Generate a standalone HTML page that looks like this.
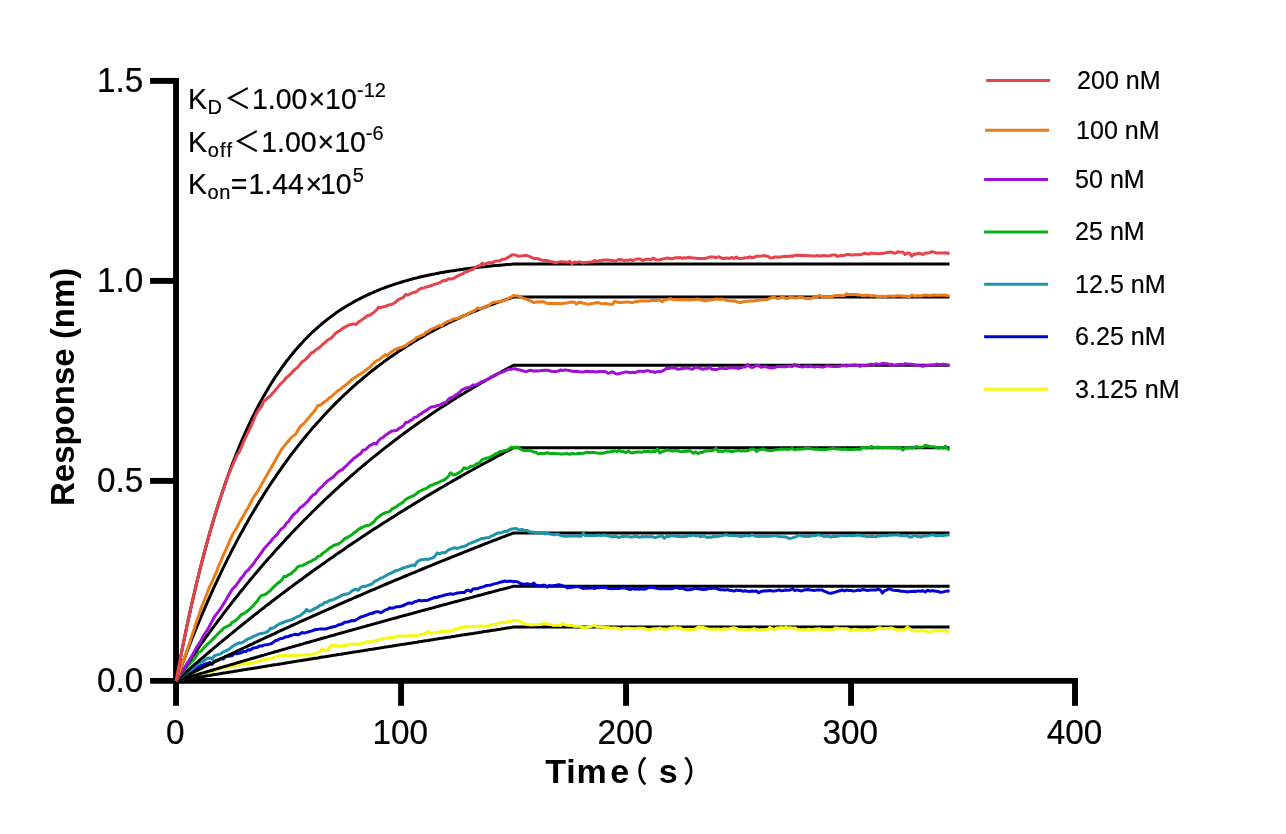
<!DOCTYPE html>
<html lang="en"><head><meta charset="utf-8"><title>Binding kinetics sensorgram</title>
<style>html,body{margin:0;padding:0;background:#fff}svg{display:block}text{font-family:"Liberation Sans","Noto Sans CJK SC",sans-serif;fill:#000;stroke:#000;stroke-width:0.2px}.tick{font-size:33.3px}.leg{font-size:25.1px}.ann{font-size:28.5px}.ss{font-size:20px}.lt{font-size:26.8px}.ttl{font-size:34px;font-weight:bold;stroke:none}.par{font-size:29.5px;font-family:"Noto Sans CJK SC",sans-serif;font-weight:500;stroke:none}.fit{fill:none;stroke:#000;stroke-width:3;stroke-linejoin:round;stroke-linecap:butt}.dat{fill:none;stroke-width:3;stroke-linejoin:round;stroke-linecap:butt}.ax{stroke:#000;stroke-width:5.9;fill:none;stroke-linecap:butt}</style></head><body>
<svg width="1286" height="834" viewBox="0 0 1286 834">
<rect width="1286" height="834" fill="#fff"/>
<g id="axes">
<path class="ax" d="M176.05 77.95 V705.8"/>
<path class="ax" d="M150.1 680.9 H1077.95"/>
<path class="ax" d="M150.1 480.90 H176.05"/>
<path class="ax" d="M150.1 280.90 H176.05"/>
<path class="ax" d="M150.1 80.90 H176.05"/>
<path class="ax" d="M401.05 680.9 V705.8"/>
<path class="ax" d="M626.05 680.9 V705.8"/>
<path class="ax" d="M851.05 680.9 V705.8"/>
<path class="ax" d="M1075.0 680.9 V705.8"/>
</g>
<g id="series">
<path class="fit" d="M176.1 680.9 L178.3 680.5 L180.6 680.2 L182.8 679.8 L185.1 679.4 L187.3 679.0 L189.6 678.7 L191.8 678.3 L194.1 677.9 L196.3 677.6 L198.6 677.2 L200.8 676.8 L203.1 676.5 L205.3 676.1 L207.6 675.7 L209.8 675.4 L212.1 675.0 L214.3 674.6 L216.6 674.3 L218.8 673.9 L221.1 673.5 L223.3 673.1 L225.6 672.8 L227.8 672.4 L230.1 672.0 L232.3 671.7 L234.6 671.3 L236.8 670.9 L239.1 670.6 L241.3 670.2 L243.6 669.8 L245.8 669.5 L248.1 669.1 L250.3 668.8 L252.6 668.4 L254.8 668.0 L257.1 667.7 L259.3 667.3 L261.6 666.9 L263.8 666.6 L266.1 666.2 L268.3 665.8 L270.6 665.5 L272.8 665.1 L275.1 664.7 L277.3 664.4 L279.6 664.0 L281.8 663.7 L284.1 663.3 L286.3 662.9 L288.6 662.6 L290.8 662.2 L293.1 661.8 L295.3 661.5 L297.6 661.1 L299.8 660.8 L302.1 660.4 L304.3 660.0 L306.6 659.7 L308.8 659.3 L311.1 658.9 L313.3 658.6 L315.6 658.2 L317.8 657.9 L320.1 657.5 L322.3 657.1 L324.6 656.8 L326.8 656.4 L329.1 656.1 L331.3 655.7 L333.6 655.3 L335.8 655.0 L338.1 654.6 L340.3 654.3 L342.6 653.9 L344.8 653.5 L347.1 653.2 L349.3 652.8 L351.6 652.5 L353.8 652.1 L356.1 651.8 L358.3 651.4 L360.6 651.0 L362.8 650.7 L365.1 650.3 L367.3 650.0 L369.6 649.6 L371.8 649.3 L374.1 648.9 L376.3 648.5 L378.6 648.2 L380.8 647.8 L383.1 647.5 L385.3 647.1 L387.6 646.8 L389.8 646.4 L392.1 646.1 L394.3 645.7 L396.6 645.3 L398.8 645.0 L401.1 644.6 L403.3 644.3 L405.6 643.9 L407.8 643.6 L410.1 643.2 L412.3 642.9 L414.6 642.5 L416.8 642.2 L419.1 641.8 L421.3 641.4 L423.6 641.1 L425.8 640.7 L428.1 640.4 L430.3 640.0 L432.6 639.7 L434.8 639.3 L437.1 639.0 L439.3 638.6 L441.6 638.3 L443.8 637.9 L446.1 637.6 L448.3 637.2 L450.6 636.9 L452.8 636.5 L455.1 636.2 L457.3 635.8 L459.6 635.5 L461.8 635.1 L464.1 634.8 L466.3 634.4 L468.6 634.1 L470.8 633.7 L473.1 633.4 L475.3 633.0 L477.6 632.7 L479.8 632.3 L482.1 632.0 L484.3 631.6 L486.6 631.3 L488.8 630.9 L491.1 630.6 L493.3 630.2 L495.6 629.9 L497.8 629.5 L500.1 629.2 L502.3 628.8 L504.6 628.5 L506.8 628.1 L509.1 627.8 L511.3 627.4 L513.5 627.1 L949.5 627.1"/>
<path class="dat" stroke="#f8f816" d="M176.1 680.9 L178.3 680.3 L180.6 679.4 L182.8 678.7 L185.1 678.0 L187.3 676.9 L189.6 676.6 L191.8 676.3 L194.1 675.3 L196.3 673.9 L198.6 673.7 L200.8 672.9 L203.1 672.8 L205.3 672.8 L207.6 672.2 L209.8 672.0 L212.1 671.5 L214.3 670.8 L216.6 670.2 L218.8 668.9 L221.1 668.1 L223.3 667.5 L225.6 667.1 L227.8 667.1 L230.1 666.8 L232.3 666.3 L234.6 665.9 L236.8 665.7 L239.1 664.8 L241.3 663.6 L243.6 664.1 L245.8 663.4 L248.1 663.5 L250.3 663.4 L252.6 663.1 L254.8 662.3 L257.1 661.6 L259.3 660.8 L261.6 660.5 L263.8 659.7 L266.1 659.1 L268.3 659.2 L270.6 658.6 L272.8 658.0 L275.1 657.1 L277.3 656.3 L279.6 655.5 L281.8 656.0 L284.1 655.3 L286.3 655.5 L288.6 656.0 L290.8 655.5 L293.1 655.4 L295.3 655.4 L297.6 655.5 L299.8 655.0 L302.1 655.0 L304.3 655.3 L306.6 654.7 L308.8 654.2 L311.1 655.6 L313.3 653.9 L315.6 653.4 L317.8 652.8 L320.1 651.6 L322.3 648.5 L324.6 650.6 L326.8 650.6 L329.1 648.3 L331.3 645.5 L333.6 645.2 L335.8 645.8 L338.1 645.6 L340.3 646.5 L342.6 645.8 L344.8 645.3 L347.1 645.4 L349.3 644.1 L351.6 644.2 L353.8 644.2 L356.1 644.0 L358.3 644.2 L360.6 643.4 L362.8 643.3 L365.1 642.4 L367.3 641.7 L369.6 641.9 L371.8 641.2 L374.1 641.0 L376.3 640.5 L378.6 640.0 L380.8 639.4 L383.1 638.4 L385.3 638.3 L387.6 638.1 L389.8 637.5 L392.1 637.4 L394.3 637.2 L396.6 636.5 L398.8 635.6 L401.1 636.5 L403.3 636.3 L405.6 635.7 L407.8 635.9 L410.1 635.5 L412.3 636.1 L414.6 635.3 L416.8 635.5 L419.1 634.9 L421.3 634.6 L423.6 633.9 L425.8 632.9 L428.1 631.3 L430.3 633.4 L432.6 633.1 L434.8 632.6 L437.1 632.4 L439.3 631.7 L441.6 631.6 L443.8 631.6 L446.1 631.1 L448.3 631.3 L450.6 631.3 L452.8 630.1 L455.1 629.2 L457.3 629.2 L459.6 627.8 L461.8 627.3 L464.1 627.6 L466.3 626.3 L468.6 627.0 L470.8 626.8 L473.1 626.5 L475.3 626.6 L477.6 626.1 L479.8 626.2 L482.1 625.7 L484.3 626.8 L486.6 626.0 L488.8 625.9 L491.1 624.8 L493.3 624.6 L495.6 624.5 L497.8 623.6 L500.1 622.7 L502.3 622.3 L504.6 622.8 L506.8 622.1 L509.1 621.2 L511.3 621.4 L513.5 620.4 L515.8 620.6 L518.0 620.7 L520.3 621.4 L522.5 623.0 L524.8 623.9 L527.0 624.3 L529.3 624.7 L531.5 625.0 L533.8 624.7 L536.0 624.7 L538.3 624.5 L540.5 624.5 L542.8 623.6 L545.0 623.3 L547.3 624.0 L549.5 624.4 L551.8 624.9 L554.0 625.6 L556.3 625.0 L558.5 625.2 L560.8 625.6 L563.0 623.1 L565.3 625.1 L567.5 625.2 L569.8 625.4 L572.0 625.5 L574.3 626.2 L576.5 626.2 L578.8 625.9 L581.0 627.0 L583.3 627.8 L585.5 627.7 L587.8 627.0 L590.0 626.8 L592.3 625.9 L594.5 625.3 L596.8 626.8 L599.0 626.9 L601.3 626.9 L603.5 627.0 L605.8 627.9 L608.0 627.5 L610.3 628.3 L612.5 628.0 L614.8 628.0 L617.0 628.2 L619.3 628.7 L621.5 629.2 L623.8 628.5 L626.0 628.3 L628.3 628.3 L630.5 628.4 L632.8 628.5 L635.0 628.8 L637.3 628.3 L639.5 628.2 L641.8 628.2 L644.0 628.3 L646.3 629.2 L648.5 629.7 L650.8 629.4 L653.0 628.7 L655.3 629.0 L657.5 628.6 L659.8 628.1 L662.0 629.0 L664.3 628.9 L666.5 629.2 L668.8 628.6 L671.0 627.9 L673.3 627.9 L675.5 627.5 L677.8 628.5 L680.0 627.8 L682.3 629.3 L684.5 629.8 L686.8 629.5 L689.0 629.3 L691.3 629.6 L693.5 629.6 L695.8 628.7 L698.0 627.3 L700.3 627.4 L702.5 627.3 L704.8 628.0 L707.0 628.6 L709.3 629.1 L711.5 629.3 L713.8 629.1 L716.0 629.3 L718.3 628.9 L720.5 629.6 L722.8 629.0 L725.0 628.8 L727.3 629.1 L729.5 628.6 L731.8 628.1 L734.0 627.8 L736.3 628.4 L738.5 629.7 L740.8 629.7 L743.0 629.5 L745.3 629.4 L747.5 630.1 L749.8 629.9 L752.0 629.2 L754.3 628.6 L756.5 629.6 L758.8 630.3 L761.0 630.1 L763.3 629.8 L765.5 629.7 L767.8 629.3 L770.0 627.4 L772.3 629.0 L774.5 629.4 L776.8 628.0 L779.0 627.9 L781.3 627.5 L783.5 628.1 L785.8 627.3 L788.0 627.9 L790.3 627.8 L792.5 628.3 L794.8 627.9 L797.0 629.1 L799.3 629.9 L801.5 630.1 L803.8 629.8 L806.0 630.3 L808.3 629.2 L810.5 629.7 L812.8 629.7 L815.0 629.1 L817.3 628.9 L819.5 628.7 L821.8 629.7 L824.0 629.6 L826.3 629.7 L828.5 630.1 L830.8 629.7 L833.0 629.5 L835.3 628.1 L837.5 628.2 L839.8 628.9 L842.0 628.6 L844.3 628.8 L846.5 628.6 L848.8 629.3 L851.0 630.7 L853.3 629.5 L855.5 629.2 L857.8 629.9 L860.0 630.1 L862.3 630.4 L864.5 629.7 L866.8 630.2 L869.0 630.3 L871.3 629.4 L873.5 629.6 L875.8 629.3 L878.0 628.2 L880.3 627.8 L882.5 628.8 L884.8 628.6 L887.0 628.4 L889.3 628.2 L891.5 627.9 L893.8 628.9 L896.0 629.5 L898.3 630.1 L900.5 630.0 L902.8 630.0 L905.0 629.4 L907.3 626.9 L909.5 628.8 L911.8 630.3 L914.0 630.4 L916.3 631.3 L918.5 631.0 L920.8 630.7 L923.0 630.6 L925.3 631.1 L927.5 631.7 L929.8 632.4 L932.0 631.1 L934.3 630.6 L936.5 631.0 L938.8 630.3 L941.0 631.3 L943.3 630.6 L945.5 630.8 L947.8 631.3 L949.5 631.0"/>
<path class="fit" d="M176.1 680.9 L178.3 680.2 L180.6 679.6 L182.8 678.9 L185.1 678.2 L187.3 677.5 L189.6 676.9 L191.8 676.2 L194.1 675.5 L196.3 674.9 L198.6 674.2 L200.8 673.5 L203.1 672.9 L205.3 672.2 L207.6 671.5 L209.8 670.9 L212.1 670.2 L214.3 669.5 L216.6 668.9 L218.8 668.2 L221.1 667.5 L223.3 666.9 L225.6 666.2 L227.8 665.6 L230.1 664.9 L232.3 664.2 L234.6 663.6 L236.8 662.9 L239.1 662.3 L241.3 661.6 L243.6 660.9 L245.8 660.3 L248.1 659.6 L250.3 659.0 L252.6 658.3 L254.8 657.7 L257.1 657.0 L259.3 656.4 L261.6 655.7 L263.8 655.1 L266.1 654.4 L268.3 653.8 L270.6 653.1 L272.8 652.5 L275.1 651.8 L277.3 651.2 L279.6 650.5 L281.8 649.9 L284.1 649.2 L286.3 648.6 L288.6 647.9 L290.8 647.3 L293.1 646.6 L295.3 646.0 L297.6 645.4 L299.8 644.7 L302.1 644.1 L304.3 643.4 L306.6 642.8 L308.8 642.2 L311.1 641.5 L313.3 640.9 L315.6 640.2 L317.8 639.6 L320.1 639.0 L322.3 638.3 L324.6 637.7 L326.8 637.1 L329.1 636.4 L331.3 635.8 L333.6 635.2 L335.8 634.5 L338.1 633.9 L340.3 633.3 L342.6 632.6 L344.8 632.0 L347.1 631.4 L349.3 630.7 L351.6 630.1 L353.8 629.5 L356.1 628.9 L358.3 628.2 L360.6 627.6 L362.8 627.0 L365.1 626.4 L367.3 625.7 L369.6 625.1 L371.8 624.5 L374.1 623.9 L376.3 623.2 L378.6 622.6 L380.8 622.0 L383.1 621.4 L385.3 620.8 L387.6 620.1 L389.8 619.5 L392.1 618.9 L394.3 618.3 L396.6 617.7 L398.8 617.0 L401.1 616.4 L403.3 615.8 L405.6 615.2 L407.8 614.6 L410.1 614.0 L412.3 613.4 L414.6 612.7 L416.8 612.1 L419.1 611.5 L421.3 610.9 L423.6 610.3 L425.8 609.7 L428.1 609.1 L430.3 608.5 L432.6 607.9 L434.8 607.2 L437.1 606.6 L439.3 606.0 L441.6 605.4 L443.8 604.8 L446.1 604.2 L448.3 603.6 L450.6 603.0 L452.8 602.4 L455.1 601.8 L457.3 601.2 L459.6 600.6 L461.8 600.0 L464.1 599.4 L466.3 598.8 L468.6 598.2 L470.8 597.6 L473.1 597.0 L475.3 596.4 L477.6 595.8 L479.8 595.2 L482.1 594.6 L484.3 594.0 L486.6 593.4 L488.8 592.8 L491.1 592.2 L493.3 591.6 L495.6 591.0 L497.8 590.4 L500.1 589.8 L502.3 589.3 L504.6 588.7 L506.8 588.1 L509.1 587.5 L511.3 586.9 L513.5 586.3 L949.5 586.3"/>
<path class="dat" stroke="#0404d7" d="M176.1 680.9 L178.3 679.4 L180.6 677.9 L182.8 676.7 L185.1 675.4 L187.3 673.7 L189.6 672.5 L191.8 671.1 L194.1 670.2 L196.3 668.5 L198.6 667.1 L200.8 665.6 L203.1 664.9 L205.3 663.8 L207.6 663.5 L209.8 662.4 L212.1 664.4 L214.3 661.4 L216.6 660.2 L218.8 659.7 L221.1 658.3 L223.3 659.1 L225.6 656.3 L227.8 656.2 L230.1 656.1 L232.3 655.5 L234.6 653.1 L236.8 653.7 L239.1 653.3 L241.3 652.7 L243.6 651.6 L245.8 651.6 L248.1 649.7 L250.3 650.0 L252.6 648.2 L254.8 647.7 L257.1 647.4 L259.3 646.1 L261.6 646.1 L263.8 645.1 L266.1 644.8 L268.3 644.4 L270.6 643.9 L272.8 642.7 L275.1 640.8 L277.3 640.3 L279.6 638.8 L281.8 638.6 L284.1 637.6 L286.3 636.7 L288.6 636.4 L290.8 635.5 L293.1 634.9 L295.3 634.3 L297.6 634.8 L299.8 634.0 L302.1 632.4 L304.3 633.1 L306.6 632.4 L308.8 631.8 L311.1 631.1 L313.3 630.3 L315.6 629.5 L317.8 629.4 L320.1 628.9 L322.3 628.9 L324.6 629.1 L326.8 628.7 L329.1 627.9 L331.3 627.2 L333.6 626.7 L335.8 626.3 L338.1 625.0 L340.3 624.5 L342.6 623.8 L344.8 622.2 L347.1 622.1 L349.3 621.5 L351.6 620.6 L353.8 620.8 L356.1 619.8 L358.3 618.4 L360.6 617.0 L362.8 616.5 L365.1 615.7 L367.3 614.8 L369.6 613.8 L371.8 613.5 L374.1 612.5 L376.3 611.7 L378.6 611.8 L380.8 612.7 L383.1 611.5 L385.3 609.9 L387.6 609.4 L389.8 607.8 L392.1 608.2 L394.3 607.6 L396.6 606.7 L398.8 606.7 L401.1 606.2 L403.3 605.5 L405.6 604.5 L407.8 603.3 L410.1 602.9 L412.3 603.2 L414.6 601.8 L416.8 601.2 L419.1 600.3 L421.3 600.9 L423.6 600.4 L425.8 600.6 L428.1 600.2 L430.3 599.2 L432.6 598.4 L434.8 597.3 L437.1 597.6 L439.3 596.4 L441.6 596.1 L443.8 595.3 L446.1 594.7 L448.3 594.2 L450.6 593.8 L452.8 594.4 L455.1 593.6 L457.3 593.0 L459.6 592.7 L461.8 592.6 L464.1 592.5 L466.3 590.6 L468.6 590.2 L470.8 591.6 L473.1 589.0 L475.3 588.8 L477.6 588.7 L479.8 587.7 L482.1 587.1 L484.3 586.4 L486.6 585.5 L488.8 585.3 L491.1 584.9 L493.3 584.1 L495.6 583.6 L497.8 583.1 L500.1 582.2 L502.3 581.8 L504.6 581.0 L506.8 581.4 L509.1 581.2 L511.3 581.2 L513.5 581.8 L515.8 581.4 L518.0 582.1 L520.3 583.6 L522.5 584.0 L524.8 584.5 L527.0 583.7 L529.3 584.3 L531.5 584.7 L533.8 583.0 L536.0 585.3 L538.3 585.4 L540.5 586.0 L542.8 585.3 L545.0 585.3 L547.3 587.2 L549.5 585.3 L551.8 586.1 L554.0 585.4 L556.3 585.2 L558.5 584.7 L560.8 585.3 L563.0 585.9 L565.3 586.7 L567.5 588.1 L569.8 587.2 L572.0 587.4 L574.3 586.9 L576.5 586.7 L578.8 586.8 L581.0 587.6 L583.3 588.5 L585.5 588.0 L587.8 588.2 L590.0 588.1 L592.3 587.7 L594.5 588.5 L596.8 587.6 L599.0 587.7 L601.3 587.4 L603.5 587.2 L605.8 587.6 L608.0 588.4 L610.3 588.4 L612.5 588.7 L614.8 588.3 L617.0 588.4 L619.3 588.6 L621.5 587.9 L623.8 587.8 L626.0 588.2 L628.3 589.0 L630.5 589.6 L632.8 588.2 L635.0 589.3 L637.3 588.8 L639.5 589.3 L641.8 588.8 L644.0 589.3 L646.3 588.7 L648.5 587.5 L650.8 587.6 L653.0 587.6 L655.3 588.0 L657.5 588.6 L659.8 588.7 L662.0 588.4 L664.3 588.8 L666.5 588.8 L668.8 588.6 L671.0 588.7 L673.3 588.4 L675.5 587.4 L677.8 588.1 L680.0 588.4 L682.3 588.0 L684.5 589.3 L686.8 589.8 L689.0 589.7 L691.3 589.6 L693.5 588.9 L695.8 588.4 L698.0 588.7 L700.3 589.0 L702.5 589.4 L704.8 589.5 L707.0 589.1 L709.3 588.2 L711.5 588.4 L713.8 588.1 L716.0 588.3 L718.3 589.2 L720.5 589.8 L722.8 589.8 L725.0 590.1 L727.3 589.6 L729.5 590.3 L731.8 590.5 L734.0 591.1 L736.3 590.1 L738.5 590.6 L740.8 590.3 L743.0 591.3 L745.3 590.8 L747.5 591.3 L749.8 591.5 L752.0 591.0 L754.3 591.2 L756.5 591.0 L758.8 592.8 L761.0 591.4 L763.3 591.0 L765.5 591.1 L767.8 590.7 L770.0 590.5 L772.3 590.9 L774.5 590.9 L776.8 590.6 L779.0 589.9 L781.3 590.8 L783.5 590.5 L785.8 590.0 L788.0 590.2 L790.3 590.0 L792.5 588.6 L794.8 590.6 L797.0 589.9 L799.3 590.5 L801.5 590.9 L803.8 590.1 L806.0 589.7 L808.3 589.5 L810.5 590.0 L812.8 590.2 L815.0 590.4 L817.3 589.9 L819.5 589.9 L821.8 589.9 L824.0 591.1 L826.3 591.9 L828.5 593.0 L830.8 593.2 L833.0 592.7 L835.3 592.1 L837.5 591.4 L839.8 590.7 L842.0 590.0 L844.3 590.9 L846.5 590.1 L848.8 590.4 L851.0 590.4 L853.3 591.1 L855.5 590.7 L857.8 590.1 L860.0 590.5 L862.3 589.6 L864.5 589.8 L866.8 590.4 L869.0 590.2 L871.3 590.0 L873.5 589.9 L875.8 590.1 L878.0 589.2 L880.3 589.9 L882.5 593.1 L884.8 590.6 L887.0 589.9 L889.3 588.4 L891.5 589.7 L893.8 590.3 L896.0 590.4 L898.3 590.5 L900.5 591.2 L902.8 591.3 L905.0 591.4 L907.3 592.0 L909.5 591.6 L911.8 591.4 L914.0 591.3 L916.3 591.4 L918.5 590.9 L920.8 591.3 L923.0 590.7 L925.3 592.0 L927.5 590.2 L929.8 591.2 L932.0 590.6 L934.3 590.9 L936.5 591.2 L938.8 591.8 L941.0 592.4 L943.3 591.9 L945.5 591.4 L947.8 590.9 L949.5 591.5"/>
<path class="fit" d="M176.1 680.9 L178.3 679.8 L180.6 678.7 L182.8 677.5 L185.1 676.4 L187.3 675.3 L189.6 674.2 L191.8 673.1 L194.1 672.0 L196.3 670.8 L198.6 669.7 L200.8 668.6 L203.1 667.5 L205.3 666.4 L207.6 665.3 L209.8 664.2 L212.1 663.1 L214.3 662.1 L216.6 661.0 L218.8 659.9 L221.1 658.8 L223.3 657.7 L225.6 656.6 L227.8 655.5 L230.1 654.5 L232.3 653.4 L234.6 652.3 L236.8 651.2 L239.1 650.2 L241.3 649.1 L243.6 648.0 L245.8 647.0 L248.1 645.9 L250.3 644.8 L252.6 643.8 L254.8 642.7 L257.1 641.7 L259.3 640.6 L261.6 639.5 L263.8 638.5 L266.1 637.4 L268.3 636.4 L270.6 635.4 L272.8 634.3 L275.1 633.3 L277.3 632.2 L279.6 631.2 L281.8 630.2 L284.1 629.1 L286.3 628.1 L288.6 627.1 L290.8 626.0 L293.1 625.0 L295.3 624.0 L297.6 623.0 L299.8 621.9 L302.1 620.9 L304.3 619.9 L306.6 618.9 L308.8 617.9 L311.1 616.9 L313.3 615.9 L315.6 614.9 L317.8 613.8 L320.1 612.8 L322.3 611.8 L324.6 610.8 L326.8 609.8 L329.1 608.8 L331.3 607.8 L333.6 606.9 L335.8 605.9 L338.1 604.9 L340.3 603.9 L342.6 602.9 L344.8 601.9 L347.1 600.9 L349.3 599.9 L351.6 599.0 L353.8 598.0 L356.1 597.0 L358.3 596.0 L360.6 595.1 L362.8 594.1 L365.1 593.1 L367.3 592.2 L369.6 591.2 L371.8 590.2 L374.1 589.3 L376.3 588.3 L378.6 587.4 L380.8 586.4 L383.1 585.4 L385.3 584.5 L387.6 583.5 L389.8 582.6 L392.1 581.6 L394.3 580.7 L396.6 579.7 L398.8 578.8 L401.1 577.9 L403.3 576.9 L405.6 576.0 L407.8 575.1 L410.1 574.1 L412.3 573.2 L414.6 572.3 L416.8 571.3 L419.1 570.4 L421.3 569.5 L423.6 568.5 L425.8 567.6 L428.1 566.7 L430.3 565.8 L432.6 564.9 L434.8 563.9 L437.1 563.0 L439.3 562.1 L441.6 561.2 L443.8 560.3 L446.1 559.4 L448.3 558.5 L450.6 557.6 L452.8 556.7 L455.1 555.8 L457.3 554.9 L459.6 554.0 L461.8 553.1 L464.1 552.2 L466.3 551.3 L468.6 550.4 L470.8 549.5 L473.1 548.6 L475.3 547.7 L477.6 546.9 L479.8 546.0 L482.1 545.1 L484.3 544.2 L486.6 543.3 L488.8 542.4 L491.1 541.6 L493.3 540.7 L495.6 539.8 L497.8 539.0 L500.1 538.1 L502.3 537.2 L504.6 536.4 L506.8 535.5 L509.1 534.6 L511.3 533.8 L513.5 532.9 L949.5 532.9"/>
<path class="dat" stroke="#1e94aa" d="M176.1 680.9 L178.3 679.0 L180.6 677.2 L182.8 675.5 L185.1 673.9 L187.3 672.0 L189.6 670.5 L191.8 669.0 L194.1 667.3 L196.3 665.3 L198.6 663.7 L200.8 662.2 L203.1 661.4 L205.3 659.7 L207.6 658.2 L209.8 657.9 L212.1 659.3 L214.3 655.7 L216.6 655.1 L218.8 654.4 L221.1 653.6 L223.3 651.9 L225.6 651.1 L227.8 649.9 L230.1 648.4 L232.3 646.6 L234.6 645.1 L236.8 643.9 L239.1 642.8 L241.3 643.0 L243.6 641.9 L245.8 640.2 L248.1 638.8 L250.3 638.1 L252.6 636.8 L254.8 635.8 L257.1 634.8 L259.3 633.9 L261.6 633.4 L263.8 633.1 L266.1 632.4 L268.3 631.1 L270.6 628.2 L272.8 628.2 L275.1 626.8 L277.3 625.2 L279.6 623.8 L281.8 623.0 L284.1 622.1 L286.3 621.2 L288.6 620.6 L290.8 620.0 L293.1 619.0 L295.3 617.8 L297.6 616.6 L299.8 615.8 L302.1 613.9 L304.3 612.5 L306.6 609.4 L308.8 611.3 L311.1 610.7 L313.3 609.4 L315.6 608.1 L317.8 607.1 L320.1 605.2 L322.3 604.7 L324.6 602.6 L326.8 602.3 L329.1 600.6 L331.3 600.1 L333.6 599.7 L335.8 598.4 L338.1 597.3 L340.3 596.2 L342.6 594.9 L344.8 594.3 L347.1 594.1 L349.3 593.1 L351.6 591.3 L353.8 589.8 L356.1 589.5 L358.3 590.2 L360.6 587.5 L362.8 586.5 L365.1 586.5 L367.3 585.6 L369.6 584.8 L371.8 584.1 L374.1 581.8 L376.3 580.6 L378.6 579.5 L380.8 578.1 L383.1 577.3 L385.3 576.0 L387.6 574.7 L389.8 573.6 L392.1 572.7 L394.3 571.4 L396.6 570.5 L398.8 569.9 L401.1 568.9 L403.3 567.8 L405.6 567.4 L407.8 566.5 L410.1 566.0 L412.3 565.0 L414.6 565.6 L416.8 562.3 L419.1 560.6 L421.3 559.6 L423.6 559.6 L425.8 559.1 L428.1 559.4 L430.3 558.6 L432.6 557.9 L434.8 556.5 L437.1 553.0 L439.3 553.7 L441.6 552.8 L443.8 552.8 L446.1 552.0 L448.3 550.0 L450.6 549.1 L452.8 548.3 L455.1 547.7 L457.3 548.4 L459.6 547.6 L461.8 546.7 L464.1 546.4 L466.3 545.6 L468.6 544.0 L470.8 543.0 L473.1 542.1 L475.3 541.3 L477.6 540.3 L479.8 539.3 L482.1 538.4 L484.3 538.3 L486.6 537.8 L488.8 537.8 L491.1 536.2 L493.3 535.4 L495.6 534.0 L497.8 532.9 L500.1 533.1 L502.3 532.4 L504.6 531.3 L506.8 531.4 L509.1 530.0 L511.3 529.1 L513.5 528.8 L515.8 528.4 L518.0 529.4 L520.3 529.7 L522.5 529.6 L524.8 530.6 L527.0 530.5 L529.3 531.5 L531.5 532.2 L533.8 532.2 L536.0 532.7 L538.3 532.9 L540.5 532.9 L542.8 532.7 L545.0 533.9 L547.3 533.3 L549.5 534.0 L551.8 534.2 L554.0 534.7 L556.3 534.1 L558.5 534.3 L560.8 535.6 L563.0 536.1 L565.3 536.3 L567.5 536.3 L569.8 536.1 L572.0 535.9 L574.3 536.1 L576.5 536.1 L578.8 536.2 L581.0 536.3 L583.3 533.4 L585.5 535.7 L587.8 535.6 L590.0 535.4 L592.3 535.9 L594.5 535.2 L596.8 535.4 L599.0 535.0 L601.3 535.4 L603.5 535.0 L605.8 535.2 L608.0 535.8 L610.3 536.2 L612.5 537.0 L614.8 536.3 L617.0 536.8 L619.3 537.5 L621.5 536.5 L623.8 536.6 L626.0 536.2 L628.3 536.3 L630.5 537.1 L632.8 536.9 L635.0 536.2 L637.3 536.4 L639.5 537.4 L641.8 536.6 L644.0 536.7 L646.3 536.5 L648.5 536.8 L650.8 536.5 L653.0 537.0 L655.3 537.6 L657.5 536.8 L659.8 536.5 L662.0 535.6 L664.3 538.4 L666.5 536.2 L668.8 536.7 L671.0 535.6 L673.3 536.0 L675.5 535.8 L677.8 536.5 L680.0 536.6 L682.3 536.7 L684.5 536.5 L686.8 536.4 L689.0 535.7 L691.3 535.6 L693.5 535.1 L695.8 535.7 L698.0 535.6 L700.3 536.7 L702.5 536.1 L704.8 536.3 L707.0 537.5 L709.3 537.1 L711.5 537.3 L713.8 536.2 L716.0 536.5 L718.3 536.2 L720.5 536.1 L722.8 535.6 L725.0 534.7 L727.3 534.9 L729.5 535.5 L731.8 535.4 L734.0 535.6 L736.3 535.8 L738.5 535.9 L740.8 536.6 L743.0 536.0 L745.3 535.8 L747.5 535.7 L749.8 535.9 L752.0 534.5 L754.3 535.8 L756.5 536.2 L758.8 536.4 L761.0 536.0 L763.3 536.5 L765.5 536.2 L767.8 536.3 L770.0 536.2 L772.3 536.1 L774.5 535.8 L776.8 535.8 L779.0 536.5 L781.3 536.8 L783.5 536.7 L785.8 536.9 L788.0 538.0 L790.3 538.4 L792.5 537.9 L794.8 537.1 L797.0 536.3 L799.3 535.0 L801.5 535.7 L803.8 536.3 L806.0 536.5 L808.3 536.4 L810.5 536.2 L812.8 535.3 L815.0 535.6 L817.3 535.1 L819.5 535.1 L821.8 535.5 L824.0 536.6 L826.3 536.3 L828.5 536.2 L830.8 537.2 L833.0 536.3 L835.3 536.6 L837.5 536.3 L839.8 535.6 L842.0 535.4 L844.3 535.7 L846.5 535.8 L848.8 535.5 L851.0 535.5 L853.3 535.7 L855.5 535.3 L857.8 534.9 L860.0 535.2 L862.3 536.0 L864.5 535.9 L866.8 536.7 L869.0 536.6 L871.3 536.3 L873.5 536.4 L875.8 536.9 L878.0 535.8 L880.3 536.0 L882.5 535.6 L884.8 535.4 L887.0 535.8 L889.3 534.9 L891.5 535.3 L893.8 535.0 L896.0 535.0 L898.3 534.7 L900.5 535.8 L902.8 535.7 L905.0 535.5 L907.3 535.7 L909.5 537.0 L911.8 537.0 L914.0 535.2 L916.3 536.2 L918.5 536.5 L920.8 537.0 L923.0 536.3 L925.3 535.9 L927.5 535.9 L929.8 535.2 L932.0 535.0 L934.3 534.9 L936.5 536.1 L938.8 535.2 L941.0 535.5 L943.3 535.6 L945.5 535.0 L947.8 535.1 L949.5 534.9"/>
<path class="fit" d="M176.1 680.9 L178.3 678.9 L180.6 676.9 L182.8 674.9 L185.1 672.9 L187.3 670.9 L189.6 669.0 L191.8 667.0 L194.1 665.0 L196.3 663.1 L198.6 661.1 L200.8 659.2 L203.1 657.3 L205.3 655.3 L207.6 653.4 L209.8 651.5 L212.1 649.6 L214.3 647.7 L216.6 645.8 L218.8 643.9 L221.1 642.1 L223.3 640.2 L225.6 638.3 L227.8 636.5 L230.1 634.6 L232.3 632.8 L234.6 631.0 L236.8 629.1 L239.1 627.3 L241.3 625.5 L243.6 623.7 L245.8 621.9 L248.1 620.1 L250.3 618.3 L252.6 616.5 L254.8 614.7 L257.1 613.0 L259.3 611.2 L261.6 609.4 L263.8 607.7 L266.1 605.9 L268.3 604.2 L270.6 602.5 L272.8 600.7 L275.1 599.0 L277.3 597.3 L279.6 595.6 L281.8 593.9 L284.1 592.2 L286.3 590.5 L288.6 588.8 L290.8 587.2 L293.1 585.5 L295.3 583.8 L297.6 582.2 L299.8 580.5 L302.1 578.9 L304.3 577.2 L306.6 575.6 L308.8 574.0 L311.1 572.3 L313.3 570.7 L315.6 569.1 L317.8 567.5 L320.1 565.9 L322.3 564.3 L324.6 562.7 L326.8 561.1 L329.1 559.5 L331.3 558.0 L333.6 556.4 L335.8 554.8 L338.1 553.3 L340.3 551.7 L342.6 550.2 L344.8 548.7 L347.1 547.1 L349.3 545.6 L351.6 544.1 L353.8 542.6 L356.1 541.0 L358.3 539.5 L360.6 538.0 L362.8 536.5 L365.1 535.1 L367.3 533.6 L369.6 532.1 L371.8 530.6 L374.1 529.1 L376.3 527.7 L378.6 526.2 L380.8 524.8 L383.1 523.3 L385.3 521.9 L387.6 520.4 L389.8 519.0 L392.1 517.6 L394.3 516.2 L396.6 514.8 L398.8 513.3 L401.1 511.9 L403.3 510.5 L405.6 509.1 L407.8 507.7 L410.1 506.4 L412.3 505.0 L414.6 503.6 L416.8 502.2 L419.1 500.9 L421.3 499.5 L423.6 498.1 L425.8 496.8 L428.1 495.4 L430.3 494.1 L432.6 492.8 L434.8 491.4 L437.1 490.1 L439.3 488.8 L441.6 487.5 L443.8 486.2 L446.1 484.8 L448.3 483.5 L450.6 482.2 L452.8 480.9 L455.1 479.7 L457.3 478.4 L459.6 477.1 L461.8 475.8 L464.1 474.5 L466.3 473.3 L468.6 472.0 L470.8 470.8 L473.1 469.5 L475.3 468.3 L477.6 467.0 L479.8 465.8 L482.1 464.5 L484.3 463.3 L486.6 462.1 L488.8 460.9 L491.1 459.6 L493.3 458.4 L495.6 457.2 L497.8 456.0 L500.1 454.8 L502.3 453.6 L504.6 452.4 L506.8 451.2 L509.1 450.1 L511.3 448.9 L513.5 447.7 L949.5 447.7"/>
<path class="dat" stroke="#08af14" d="M176.1 680.9 L178.3 677.9 L180.6 674.9 L182.8 672.2 L185.1 669.4 L187.3 666.6 L189.6 664.0 L191.8 661.4 L194.1 659.3 L196.3 656.2 L198.6 652.1 L200.8 651.4 L203.1 648.7 L205.3 646.3 L207.6 644.1 L209.8 642.1 L212.1 639.9 L214.3 637.6 L216.6 635.2 L218.8 632.8 L221.1 630.9 L223.3 628.6 L225.6 627.1 L227.8 626.2 L230.1 625.0 L232.3 622.3 L234.6 621.2 L236.8 619.5 L239.1 617.2 L241.3 614.5 L243.6 613.8 L245.8 612.3 L248.1 610.5 L250.3 608.6 L252.6 606.3 L254.8 603.7 L257.1 601.3 L259.3 597.8 L261.6 595.5 L263.8 594.9 L266.1 594.0 L268.3 592.2 L270.6 590.4 L272.8 587.8 L275.1 585.7 L277.3 583.5 L279.6 581.9 L281.8 580.0 L284.1 576.2 L286.3 576.7 L288.6 574.7 L290.8 573.9 L293.1 571.7 L295.3 569.8 L297.6 566.8 L299.8 565.9 L302.1 565.7 L304.3 564.7 L306.6 563.3 L308.8 562.2 L311.1 561.3 L313.3 559.8 L315.6 558.9 L317.8 556.5 L320.1 555.9 L322.3 553.9 L324.6 551.9 L326.8 550.4 L329.1 548.4 L331.3 547.1 L333.6 545.5 L335.8 544.8 L338.1 544.1 L340.3 542.7 L342.6 540.8 L344.8 538.5 L347.1 537.6 L349.3 536.3 L351.6 535.0 L353.8 532.8 L356.1 531.6 L358.3 529.4 L360.6 528.2 L362.8 527.2 L365.1 526.0 L367.3 525.4 L369.6 525.1 L371.8 523.3 L374.1 521.7 L376.3 518.6 L378.6 516.9 L380.8 515.1 L383.1 513.8 L385.3 512.7 L387.6 512.2 L389.8 511.4 L392.1 508.9 L394.3 507.8 L396.6 506.6 L398.8 504.7 L401.1 503.4 L403.3 502.1 L405.6 499.5 L407.8 498.2 L410.1 497.2 L412.3 496.2 L414.6 495.1 L416.8 493.3 L419.1 491.5 L421.3 490.5 L423.6 489.2 L425.8 488.6 L428.1 487.3 L430.3 485.5 L432.6 485.0 L434.8 483.8 L437.1 483.1 L439.3 482.2 L441.6 480.9 L443.8 480.3 L446.1 478.4 L448.3 476.6 L450.6 472.7 L452.8 474.7 L455.1 474.7 L457.3 473.6 L459.6 472.2 L461.8 470.9 L464.1 467.7 L466.3 468.7 L468.6 467.8 L470.8 466.3 L473.1 466.2 L475.3 464.8 L477.6 463.4 L479.8 462.7 L482.1 459.6 L484.3 458.8 L486.6 458.0 L488.8 457.9 L491.1 456.6 L493.3 455.4 L495.6 453.7 L497.8 453.1 L500.1 451.5 L502.3 451.5 L504.6 450.4 L506.8 450.2 L509.1 448.7 L511.3 447.2 L513.5 447.6 L515.8 447.1 L518.0 447.3 L520.3 449.0 L522.5 450.1 L524.8 450.7 L527.0 450.6 L529.3 450.2 L531.5 451.1 L533.8 452.0 L536.0 452.3 L538.3 453.9 L540.5 453.4 L542.8 453.4 L545.0 453.5 L547.3 452.8 L549.5 453.2 L551.8 453.7 L554.0 453.2 L556.3 453.7 L558.5 453.7 L560.8 454.0 L563.0 454.0 L565.3 453.8 L567.5 453.6 L569.8 454.3 L572.0 453.4 L574.3 453.7 L576.5 453.9 L578.8 453.3 L581.0 453.6 L583.3 453.2 L585.5 452.6 L587.8 452.2 L590.0 452.7 L592.3 452.2 L594.5 452.5 L596.8 453.0 L599.0 453.3 L601.3 452.9 L603.5 453.2 L605.8 452.3 L608.0 451.9 L610.3 451.7 L612.5 451.2 L614.8 450.9 L617.0 451.7 L619.3 450.4 L621.5 451.6 L623.8 451.6 L626.0 452.6 L628.3 450.9 L630.5 452.5 L632.8 453.0 L635.0 452.3 L637.3 452.0 L639.5 451.9 L641.8 452.4 L644.0 451.4 L646.3 451.6 L648.5 451.2 L650.8 452.1 L653.0 451.2 L655.3 451.5 L657.5 449.0 L659.8 452.9 L662.0 451.5 L664.3 451.2 L666.5 449.9 L668.8 450.3 L671.0 450.7 L673.3 451.1 L675.5 450.6 L677.8 450.8 L680.0 451.5 L682.3 451.7 L684.5 451.2 L686.8 451.3 L689.0 450.7 L691.3 451.6 L693.5 453.3 L695.8 451.9 L698.0 453.7 L700.3 452.2 L702.5 452.5 L704.8 450.9 L707.0 451.0 L709.3 450.7 L711.5 450.8 L713.8 449.9 L716.0 448.3 L718.3 451.6 L720.5 451.1 L722.8 451.6 L725.0 450.6 L727.3 451.1 L729.5 451.1 L731.8 451.8 L734.0 451.0 L736.3 450.9 L738.5 450.4 L740.8 451.0 L743.0 450.7 L745.3 451.1 L747.5 450.8 L749.8 449.6 L752.0 448.9 L754.3 449.2 L756.5 451.4 L758.8 449.9 L761.0 449.4 L763.3 449.0 L765.5 449.9 L767.8 450.3 L770.0 450.8 L772.3 450.4 L774.5 450.0 L776.8 449.8 L779.0 449.4 L781.3 449.1 L783.5 449.2 L785.8 449.0 L788.0 449.4 L790.3 449.0 L792.5 448.6 L794.8 450.0 L797.0 449.0 L799.3 449.2 L801.5 448.9 L803.8 449.0 L806.0 448.3 L808.3 448.6 L810.5 448.6 L812.8 449.1 L815.0 449.2 L817.3 449.0 L819.5 449.6 L821.8 449.6 L824.0 449.8 L826.3 449.6 L828.5 449.0 L830.8 448.9 L833.0 448.3 L835.3 448.8 L837.5 449.0 L839.8 449.1 L842.0 449.5 L844.3 449.1 L846.5 449.4 L848.8 449.6 L851.0 449.2 L853.3 449.4 L855.5 449.2 L857.8 449.0 L860.0 449.5 L862.3 447.5 L864.5 447.5 L866.8 448.1 L869.0 447.7 L871.3 446.5 L873.5 447.2 L875.8 447.6 L878.0 447.0 L880.3 447.4 L882.5 447.8 L884.8 447.2 L887.0 447.9 L889.3 447.4 L891.5 448.0 L893.8 447.7 L896.0 447.8 L898.3 448.3 L900.5 447.7 L902.8 450.0 L905.0 448.1 L907.3 448.1 L909.5 447.5 L911.8 448.2 L914.0 447.6 L916.3 446.5 L918.5 447.2 L920.8 447.3 L923.0 446.9 L925.3 445.2 L927.5 445.7 L929.8 446.6 L932.0 446.8 L934.3 447.1 L936.5 447.5 L938.8 448.3 L941.0 447.3 L943.3 448.2 L945.5 446.1 L947.8 449.1 L949.5 449.9"/>
<path class="fit" d="M176.1 680.9 L178.3 677.5 L180.6 674.1 L182.8 670.7 L185.1 667.3 L187.3 664.0 L189.6 660.7 L191.8 657.4 L194.1 654.2 L196.3 650.9 L198.6 647.7 L200.8 644.5 L203.1 641.3 L205.3 638.2 L207.6 635.1 L209.8 632.0 L212.1 628.9 L214.3 625.8 L216.6 622.8 L218.8 619.8 L221.1 616.8 L223.3 613.8 L225.6 610.9 L227.8 608.0 L230.1 605.1 L232.3 602.2 L234.6 599.3 L236.8 596.5 L239.1 593.6 L241.3 590.8 L243.6 588.1 L245.8 585.3 L248.1 582.6 L250.3 579.8 L252.6 577.1 L254.8 574.4 L257.1 571.8 L259.3 569.1 L261.6 566.5 L263.8 563.9 L266.1 561.3 L268.3 558.7 L270.6 556.2 L272.8 553.7 L275.1 551.1 L277.3 548.6 L279.6 546.2 L281.8 543.7 L284.1 541.3 L286.3 538.8 L288.6 536.4 L290.8 534.0 L293.1 531.7 L295.3 529.3 L297.6 527.0 L299.8 524.6 L302.1 522.3 L304.3 520.0 L306.6 517.8 L308.8 515.5 L311.1 513.3 L313.3 511.0 L315.6 508.8 L317.8 506.6 L320.1 504.5 L322.3 502.3 L324.6 500.1 L326.8 498.0 L329.1 495.9 L331.3 493.8 L333.6 491.7 L335.8 489.6 L338.1 487.6 L340.3 485.5 L342.6 483.5 L344.8 481.5 L347.1 479.5 L349.3 477.5 L351.6 475.5 L353.8 473.6 L356.1 471.7 L358.3 469.7 L360.6 467.8 L362.8 465.9 L365.1 464.0 L367.3 462.2 L369.6 460.3 L371.8 458.4 L374.1 456.6 L376.3 454.8 L378.6 453.0 L380.8 451.2 L383.1 449.4 L385.3 447.6 L387.6 445.9 L389.8 444.2 L392.1 442.4 L394.3 440.7 L396.6 439.0 L398.8 437.3 L401.1 435.6 L403.3 434.0 L405.6 432.3 L407.8 430.7 L410.1 429.0 L412.3 427.4 L414.6 425.8 L416.8 424.2 L419.1 422.6 L421.3 421.0 L423.6 419.5 L425.8 417.9 L428.1 416.4 L430.3 414.8 L432.6 413.3 L434.8 411.8 L437.1 410.3 L439.3 408.8 L441.6 407.3 L443.8 405.9 L446.1 404.4 L448.3 403.0 L450.6 401.5 L452.8 400.1 L455.1 398.7 L457.3 397.3 L459.6 395.9 L461.8 394.5 L464.1 393.2 L466.3 391.8 L468.6 390.4 L470.8 389.1 L473.1 387.8 L475.3 386.4 L477.6 385.1 L479.8 383.8 L482.1 382.5 L484.3 381.2 L486.6 379.9 L488.8 378.7 L491.1 377.4 L493.3 376.2 L495.6 374.9 L497.8 373.7 L500.1 372.5 L502.3 371.2 L504.6 370.0 L506.8 368.8 L509.1 367.7 L511.3 366.5 L513.5 365.3 L949.5 365.3"/>
<path class="dat" stroke="#a010d7" d="M176.1 680.9 L178.3 677.4 L180.6 673.8 L182.8 670.1 L185.1 666.6 L187.3 663.1 L189.6 659.6 L191.8 656.1 L194.1 651.9 L196.3 647.9 L198.6 644.4 L200.8 640.8 L203.1 636.4 L205.3 633.1 L207.6 629.6 L209.8 625.5 L212.1 621.2 L214.3 617.0 L216.6 613.9 L218.8 611.1 L221.1 608.0 L223.3 604.2 L225.6 600.6 L227.8 596.6 L230.1 592.9 L232.3 589.3 L234.6 586.9 L236.8 584.4 L239.1 581.2 L241.3 577.9 L243.6 575.4 L245.8 571.9 L248.1 570.2 L250.3 567.3 L252.6 564.9 L254.8 561.6 L257.1 558.4 L259.3 555.7 L261.6 552.5 L263.8 549.0 L266.1 546.5 L268.3 544.0 L270.6 541.5 L272.8 538.7 L275.1 536.3 L277.3 534.3 L279.6 530.8 L281.8 528.6 L284.1 526.9 L286.3 523.5 L288.6 521.3 L290.8 518.2 L293.1 515.0 L295.3 513.1 L297.6 511.2 L299.8 508.0 L302.1 506.5 L304.3 504.6 L306.6 502.4 L308.8 500.2 L311.1 497.0 L313.3 494.8 L315.6 493.6 L317.8 490.5 L320.1 488.2 L322.3 486.4 L324.6 483.6 L326.8 481.6 L329.1 479.7 L331.3 478.4 L333.6 476.7 L335.8 474.1 L338.1 472.1 L340.3 470.6 L342.6 469.4 L344.8 467.1 L347.1 465.1 L349.3 462.7 L351.6 460.6 L353.8 458.4 L356.1 456.8 L358.3 455.0 L360.6 453.6 L362.8 450.3 L365.1 449.8 L367.3 448.0 L369.6 445.5 L371.8 444.8 L374.1 443.3 L376.3 444.2 L378.6 440.5 L380.8 438.5 L383.1 437.4 L385.3 435.2 L387.6 433.9 L389.8 432.2 L392.1 430.9 L394.3 430.8 L396.6 430.4 L398.8 428.6 L401.1 427.3 L403.3 426.0 L405.6 422.6 L407.8 422.3 L410.1 420.7 L412.3 419.6 L414.6 417.3 L416.8 417.0 L419.1 414.8 L421.3 413.7 L423.6 411.9 L425.8 410.6 L428.1 409.2 L430.3 407.4 L432.6 406.7 L434.8 406.7 L437.1 405.6 L439.3 405.3 L441.6 404.0 L443.8 402.7 L446.1 402.4 L448.3 399.5 L450.6 397.8 L452.8 397.1 L455.1 395.4 L457.3 394.1 L459.6 392.3 L461.8 390.0 L464.1 388.9 L466.3 387.7 L468.6 387.5 L470.8 386.9 L473.1 385.0 L475.3 385.1 L477.6 384.2 L479.8 382.9 L482.1 381.5 L484.3 380.9 L486.6 379.8 L488.8 378.5 L491.1 376.9 L493.3 376.1 L495.6 375.3 L497.8 373.8 L500.1 372.5 L502.3 372.2 L504.6 371.1 L506.8 370.2 L509.1 369.2 L511.3 369.3 L513.5 368.7 L515.8 368.8 L518.0 369.8 L520.3 370.1 L522.5 370.8 L524.8 371.3 L527.0 371.4 L529.3 370.4 L531.5 370.3 L533.8 371.2 L536.0 370.7 L538.3 371.1 L540.5 370.6 L542.8 370.6 L545.0 370.2 L547.3 370.2 L549.5 370.8 L551.8 371.4 L554.0 371.4 L556.3 371.4 L558.5 371.0 L560.8 370.0 L563.0 370.4 L565.3 369.9 L567.5 370.2 L569.8 370.4 L572.0 371.3 L574.3 371.5 L576.5 371.3 L578.8 371.6 L581.0 372.1 L583.3 372.1 L585.5 371.5 L587.8 371.2 L590.0 371.8 L592.3 371.4 L594.5 371.7 L596.8 372.1 L599.0 371.4 L601.3 371.4 L603.5 371.5 L605.8 371.7 L608.0 373.4 L610.3 372.6 L612.5 371.7 L614.8 373.1 L617.0 374.1 L619.3 373.8 L621.5 372.8 L623.8 372.4 L626.0 371.9 L628.3 372.3 L630.5 372.7 L632.8 372.2 L635.0 372.7 L637.3 371.7 L639.5 371.3 L641.8 371.3 L644.0 371.7 L646.3 370.7 L648.5 370.8 L650.8 371.7 L653.0 371.8 L655.3 372.5 L657.5 371.5 L659.8 371.7 L662.0 371.2 L664.3 370.0 L666.5 368.3 L668.8 368.5 L671.0 367.9 L673.3 368.1 L675.5 368.1 L677.8 369.2 L680.0 368.9 L682.3 368.5 L684.5 368.3 L686.8 367.9 L689.0 368.4 L691.3 369.2 L693.5 368.7 L695.8 367.3 L698.0 367.8 L700.3 368.2 L702.5 369.3 L704.8 368.7 L707.0 368.8 L709.3 367.2 L711.5 369.2 L713.8 369.2 L716.0 369.8 L718.3 368.9 L720.5 368.2 L722.8 368.2 L725.0 368.7 L727.3 368.4 L729.5 367.8 L731.8 367.7 L734.0 368.0 L736.3 367.8 L738.5 368.5 L740.8 367.9 L743.0 367.1 L745.3 366.9 L747.5 364.5 L749.8 366.6 L752.0 367.5 L754.3 366.8 L756.5 365.0 L758.8 365.7 L761.0 367.3 L763.3 366.8 L765.5 366.6 L767.8 367.3 L770.0 367.7 L772.3 368.1 L774.5 367.6 L776.8 366.9 L779.0 366.4 L781.3 366.7 L783.5 366.5 L785.8 366.8 L788.0 366.2 L790.3 366.3 L792.5 366.5 L794.8 364.4 L797.0 366.1 L799.3 366.4 L801.5 366.9 L803.8 366.8 L806.0 366.0 L808.3 366.7 L810.5 366.0 L812.8 366.7 L815.0 367.1 L817.3 366.3 L819.5 366.8 L821.8 366.9 L824.0 366.9 L826.3 366.1 L828.5 365.9 L830.8 366.3 L833.0 366.5 L835.3 366.2 L837.5 366.6 L839.8 366.2 L842.0 365.6 L844.3 365.4 L846.5 366.2 L848.8 365.4 L851.0 365.6 L853.3 365.0 L855.5 365.0 L857.8 365.4 L860.0 366.4 L862.3 365.3 L864.5 365.8 L866.8 365.4 L869.0 364.8 L871.3 364.1 L873.5 364.8 L875.8 363.8 L878.0 364.3 L880.3 364.4 L882.5 363.3 L884.8 363.6 L887.0 363.7 L889.3 364.5 L891.5 364.3 L893.8 365.5 L896.0 365.0 L898.3 364.4 L900.5 364.3 L902.8 364.8 L905.0 363.7 L907.3 363.9 L909.5 364.3 L911.8 364.3 L914.0 364.8 L916.3 365.1 L918.5 365.6 L920.8 365.7 L923.0 366.3 L925.3 365.6 L927.5 365.5 L929.8 365.3 L932.0 364.9 L934.3 365.1 L936.5 364.0 L938.8 364.7 L941.0 364.6 L943.3 364.3 L945.5 364.5 L947.8 365.1 L949.5 365.6"/>
<path class="fit" d="M176.1 680.9 L178.3 674.7 L180.6 668.6 L182.8 662.6 L185.1 656.6 L187.3 650.8 L189.6 645.0 L191.8 639.3 L194.1 633.7 L196.3 628.2 L198.6 622.7 L200.8 617.3 L203.1 612.1 L205.3 606.8 L207.6 601.7 L209.8 596.6 L212.1 591.6 L214.3 586.7 L216.6 581.8 L218.8 577.1 L221.1 572.3 L223.3 567.7 L225.6 563.1 L227.8 558.6 L230.1 554.1 L232.3 549.7 L234.6 545.4 L236.8 541.1 L239.1 536.9 L241.3 532.8 L243.6 528.7 L245.8 524.7 L248.1 520.7 L250.3 516.8 L252.6 513.0 L254.8 509.2 L257.1 505.4 L259.3 501.7 L261.6 498.1 L263.8 494.5 L266.1 490.9 L268.3 487.5 L270.6 484.0 L272.8 480.6 L275.1 477.3 L277.3 474.0 L279.6 470.8 L281.8 467.6 L284.1 464.4 L286.3 461.3 L288.6 458.2 L290.8 455.2 L293.1 452.2 L295.3 449.3 L297.6 446.4 L299.8 443.6 L302.1 440.8 L304.3 438.0 L306.6 435.3 L308.8 432.6 L311.1 429.9 L313.3 427.3 L315.6 424.7 L317.8 422.2 L320.1 419.7 L322.3 417.2 L324.6 414.8 L326.8 412.4 L329.1 410.0 L331.3 407.7 L333.6 405.4 L335.8 403.1 L338.1 400.9 L340.3 398.7 L342.6 396.5 L344.8 394.4 L347.1 392.3 L349.3 390.2 L351.6 388.2 L353.8 386.1 L356.1 384.2 L358.3 382.2 L360.6 380.3 L362.8 378.4 L365.1 376.5 L367.3 374.6 L369.6 372.8 L371.8 371.0 L374.1 369.2 L376.3 367.5 L378.6 365.8 L380.8 364.1 L383.1 362.4 L385.3 360.8 L387.6 359.1 L389.8 357.5 L392.1 355.9 L394.3 354.4 L396.6 352.9 L398.8 351.3 L401.1 349.9 L403.3 348.4 L405.6 346.9 L407.8 345.5 L410.1 344.1 L412.3 342.7 L414.6 341.3 L416.8 340.0 L419.1 338.7 L421.3 337.4 L423.6 336.1 L425.8 334.8 L428.1 333.5 L430.3 332.3 L432.6 331.1 L434.8 329.9 L437.1 328.7 L439.3 327.5 L441.6 326.4 L443.8 325.3 L446.1 324.1 L448.3 323.0 L450.6 321.9 L452.8 320.9 L455.1 319.8 L457.3 318.8 L459.6 317.8 L461.8 316.7 L464.1 315.7 L466.3 314.8 L468.6 313.8 L470.8 312.8 L473.1 311.9 L475.3 311.0 L477.6 310.1 L479.8 309.2 L482.1 308.3 L484.3 307.4 L486.6 306.5 L488.8 305.7 L491.1 304.8 L493.3 304.0 L495.6 303.2 L497.8 302.4 L500.1 301.6 L502.3 300.8 L504.6 300.1 L506.8 299.3 L509.1 298.6 L511.3 297.8 L513.5 297.1 L949.5 297.1"/>
<path class="dat" stroke="#e87d1a" d="M176.1 680.9 L178.3 674.8 L180.6 668.4 L182.8 662.3 L185.1 656.1 L187.3 649.6 L189.6 643.0 L191.8 636.0 L194.1 629.3 L196.3 622.2 L198.6 615.9 L200.8 609.1 L203.1 603.3 L205.3 597.8 L207.6 591.8 L209.8 586.4 L212.1 581.9 L214.3 576.4 L216.6 571.6 L218.8 565.6 L221.1 560.6 L223.3 555.2 L225.6 550.5 L227.8 545.3 L230.1 539.9 L232.3 535.0 L234.6 531.2 L236.8 527.7 L239.1 523.1 L241.3 519.3 L243.6 515.6 L245.8 511.2 L248.1 507.8 L250.3 503.4 L252.6 499.0 L254.8 495.3 L257.1 492.2 L259.3 488.6 L261.6 484.3 L263.8 480.6 L266.1 476.4 L268.3 472.6 L270.6 468.7 L272.8 464.7 L275.1 460.7 L277.3 456.8 L279.6 452.9 L281.8 449.1 L284.1 446.1 L286.3 443.5 L288.6 440.7 L290.8 438.1 L293.1 436.0 L295.3 434.7 L297.6 430.7 L299.8 427.1 L302.1 424.9 L304.3 423.1 L306.6 420.3 L308.8 417.7 L311.1 414.8 L313.3 412.4 L315.6 409.3 L317.8 405.5 L320.1 405.4 L322.3 403.5 L324.6 401.7 L326.8 400.4 L329.1 397.9 L331.3 396.8 L333.6 394.5 L335.8 392.5 L338.1 390.5 L340.3 389.5 L342.6 387.2 L344.8 385.8 L347.1 383.8 L349.3 382.2 L351.6 379.5 L353.8 378.3 L356.1 376.8 L358.3 375.0 L360.6 374.1 L362.8 372.6 L365.1 370.9 L367.3 369.0 L369.6 367.5 L371.8 365.0 L374.1 362.7 L376.3 361.0 L378.6 359.9 L380.8 358.5 L383.1 356.4 L385.3 354.6 L387.6 355.5 L389.8 352.9 L392.1 351.4 L394.3 350.0 L396.6 349.0 L398.8 348.0 L401.1 347.5 L403.3 346.7 L405.6 345.7 L407.8 343.8 L410.1 342.1 L412.3 341.0 L414.6 339.5 L416.8 337.4 L419.1 336.7 L421.3 335.5 L423.6 334.7 L425.8 332.4 L428.1 331.5 L430.3 329.8 L432.6 328.5 L434.8 327.9 L437.1 326.7 L439.3 325.6 L441.6 326.0 L443.8 323.5 L446.1 322.3 L448.3 321.1 L450.6 320.6 L452.8 319.3 L455.1 318.8 L457.3 318.4 L459.6 317.4 L461.8 316.7 L464.1 315.8 L466.3 315.1 L468.6 313.5 L470.8 312.1 L473.1 311.5 L475.3 309.9 L477.6 307.8 L479.8 308.8 L482.1 308.4 L484.3 307.2 L486.6 306.4 L488.8 305.4 L491.1 303.3 L493.3 302.5 L495.6 302.1 L497.8 302.1 L500.1 301.5 L502.3 301.0 L504.6 300.1 L506.8 299.7 L509.1 297.9 L511.3 297.2 L513.5 295.4 L515.8 295.8 L518.0 296.0 L520.3 296.8 L522.5 298.1 L524.8 298.7 L527.0 299.6 L529.3 300.5 L531.5 301.2 L533.8 302.6 L536.0 301.9 L538.3 301.8 L540.5 302.0 L542.8 301.5 L545.0 302.3 L547.3 303.6 L549.5 303.2 L551.8 303.5 L554.0 303.4 L556.3 303.5 L558.5 303.5 L560.8 303.8 L563.0 303.6 L565.3 303.1 L567.5 302.9 L569.8 302.2 L572.0 302.1 L574.3 302.2 L576.5 304.2 L578.8 302.2 L581.0 302.5 L583.3 303.2 L585.5 303.6 L587.8 304.2 L590.0 304.0 L592.3 303.6 L594.5 303.1 L596.8 302.5 L599.0 302.8 L601.3 303.7 L603.5 303.7 L605.8 303.4 L608.0 304.0 L610.3 304.2 L612.5 304.2 L614.8 301.3 L617.0 302.1 L619.3 302.4 L621.5 302.5 L623.8 302.3 L626.0 302.1 L628.3 301.9 L630.5 302.4 L632.8 302.6 L635.0 301.7 L637.3 301.6 L639.5 301.1 L641.8 301.1 L644.0 301.0 L646.3 300.9 L648.5 301.1 L650.8 300.5 L653.0 300.2 L655.3 300.4 L657.5 300.4 L659.8 299.7 L662.0 301.8 L664.3 300.1 L666.5 299.6 L668.8 299.1 L671.0 298.8 L673.3 299.6 L675.5 299.4 L677.8 299.9 L680.0 299.6 L682.3 299.8 L684.5 299.5 L686.8 300.1 L689.0 300.1 L691.3 300.0 L693.5 299.8 L695.8 299.6 L698.0 299.0 L700.3 299.9 L702.5 300.0 L704.8 300.9 L707.0 300.5 L709.3 299.8 L711.5 299.9 L713.8 299.6 L716.0 298.9 L718.3 299.2 L720.5 299.2 L722.8 299.1 L725.0 299.9 L727.3 300.6 L729.5 300.8 L731.8 301.1 L734.0 300.7 L736.3 301.7 L738.5 302.3 L740.8 302.6 L743.0 301.8 L745.3 301.5 L747.5 301.2 L749.8 301.0 L752.0 300.9 L754.3 301.0 L756.5 300.5 L758.8 300.3 L761.0 299.9 L763.3 299.8 L765.5 299.6 L767.8 299.4 L770.0 298.3 L772.3 297.5 L774.5 297.3 L776.8 298.5 L779.0 298.2 L781.3 297.6 L783.5 297.5 L785.8 298.4 L788.0 298.4 L790.3 297.0 L792.5 297.3 L794.8 298.1 L797.0 298.0 L799.3 297.4 L801.5 297.4 L803.8 297.9 L806.0 298.7 L808.3 298.2 L810.5 298.7 L812.8 297.8 L815.0 297.0 L817.3 296.7 L819.5 295.4 L821.8 296.8 L824.0 296.8 L826.3 297.0 L828.5 297.3 L830.8 297.4 L833.0 296.3 L835.3 295.4 L837.5 295.6 L839.8 295.4 L842.0 295.7 L844.3 295.6 L846.5 293.7 L848.8 294.7 L851.0 294.5 L853.3 294.5 L855.5 294.4 L857.8 295.0 L860.0 294.8 L862.3 295.7 L864.5 295.5 L866.8 295.3 L869.0 295.2 L871.3 296.1 L873.5 295.5 L875.8 296.0 L878.0 297.0 L880.3 296.6 L882.5 296.3 L884.8 296.8 L887.0 296.3 L889.3 296.1 L891.5 296.0 L893.8 296.4 L896.0 295.8 L898.3 295.7 L900.5 295.7 L902.8 296.2 L905.0 296.3 L907.3 296.2 L909.5 296.9 L911.8 295.1 L914.0 295.9 L916.3 295.9 L918.5 295.8 L920.8 296.0 L923.0 295.5 L925.3 295.1 L927.5 295.2 L929.8 295.5 L932.0 295.3 L934.3 295.0 L936.5 295.3 L938.8 295.2 L941.0 295.2 L943.3 295.0 L945.5 295.2 L947.8 295.7 L949.5 295.8"/>
<path class="fit" d="M176.1 680.9 L178.3 668.9 L180.6 657.3 L182.8 645.9 L185.1 634.9 L187.3 624.2 L189.6 613.9 L191.8 603.8 L194.1 594.0 L196.3 584.4 L198.6 575.2 L200.8 566.2 L203.1 557.5 L205.3 549.0 L207.6 540.7 L209.8 532.7 L212.1 524.9 L214.3 517.4 L216.6 510.0 L218.8 502.9 L221.1 495.9 L223.3 489.2 L225.6 482.6 L227.8 476.3 L230.1 470.1 L232.3 464.1 L234.6 458.3 L236.8 452.6 L239.1 447.1 L241.3 441.7 L243.6 436.5 L245.8 431.5 L248.1 426.6 L250.3 421.8 L252.6 417.1 L254.8 412.6 L257.1 408.3 L259.3 404.0 L261.6 399.9 L263.8 395.9 L266.1 392.0 L268.3 388.2 L270.6 384.5 L272.8 380.9 L275.1 377.4 L277.3 374.1 L279.6 370.8 L281.8 367.6 L284.1 364.5 L286.3 361.5 L288.6 358.6 L290.8 355.7 L293.1 353.0 L295.3 350.3 L297.6 347.7 L299.8 345.1 L302.1 342.7 L304.3 340.3 L306.6 338.0 L308.8 335.7 L311.1 333.5 L313.3 331.4 L315.6 329.3 L317.8 327.3 L320.1 325.4 L322.3 323.5 L324.6 321.6 L326.8 319.8 L329.1 318.1 L331.3 316.4 L333.6 314.7 L335.8 313.1 L338.1 311.6 L340.3 310.1 L342.6 308.6 L344.8 307.2 L347.1 305.8 L349.3 304.5 L351.6 303.2 L353.8 301.9 L356.1 300.7 L358.3 299.5 L360.6 298.3 L362.8 297.2 L365.1 296.1 L367.3 295.0 L369.6 294.0 L371.8 293.0 L374.1 292.0 L376.3 291.0 L378.6 290.1 L380.8 289.2 L383.1 288.3 L385.3 287.5 L387.6 286.7 L389.8 285.9 L392.1 285.1 L394.3 284.3 L396.6 283.6 L398.8 282.9 L401.1 282.2 L403.3 281.5 L405.6 280.9 L407.8 280.2 L410.1 279.6 L412.3 279.0 L414.6 278.4 L416.8 277.9 L419.1 277.3 L421.3 276.8 L423.6 276.3 L425.8 275.8 L428.1 275.3 L430.3 274.8 L432.6 274.3 L434.8 273.9 L437.1 273.4 L439.3 273.0 L441.6 272.6 L443.8 272.2 L446.1 271.8 L448.3 271.4 L450.6 271.1 L452.8 270.7 L455.1 270.4 L457.3 270.0 L459.6 269.7 L461.8 269.4 L464.1 269.1 L466.3 268.8 L468.6 268.5 L470.8 268.2 L473.1 267.9 L475.3 267.6 L477.6 267.4 L479.8 267.1 L482.1 266.9 L484.3 266.7 L486.6 266.4 L488.8 266.2 L491.1 266.0 L493.3 265.8 L495.6 265.6 L497.8 265.4 L500.1 265.2 L502.3 265.0 L504.6 264.8 L506.8 264.6 L509.1 264.4 L511.3 264.3 L513.5 264.1 L949.5 264.1"/>
<path class="dat" stroke="#e5444c" d="M176.1 680.9 L178.3 668.9 L180.6 657.2 L182.8 646.0 L185.1 635.0 L187.3 624.3 L189.6 613.9 L191.8 603.9 L194.1 594.0 L196.3 584.4 L198.6 574.9 L200.8 565.9 L203.1 557.0 L205.3 548.7 L207.6 540.6 L209.8 532.2 L212.1 524.5 L214.3 516.9 L216.6 509.5 L218.8 502.2 L221.1 496.1 L223.3 489.9 L225.6 483.0 L227.8 475.8 L230.1 471.0 L232.3 465.9 L234.6 460.7 L236.8 455.4 L239.1 452.2 L241.3 447.4 L243.6 441.8 L245.8 436.9 L248.1 432.1 L250.3 428.0 L252.6 422.7 L254.8 417.1 L257.1 412.5 L259.3 409.0 L261.6 406.4 L263.8 400.7 L266.1 399.8 L268.3 397.2 L270.6 395.7 L272.8 393.0 L275.1 390.5 L277.3 387.9 L279.6 384.9 L281.8 382.8 L284.1 380.5 L286.3 377.5 L288.6 375.9 L290.8 373.8 L293.1 371.1 L295.3 369.1 L297.6 367.4 L299.8 364.6 L302.1 361.7 L304.3 360.5 L306.6 358.3 L308.8 356.2 L311.1 353.2 L313.3 352.1 L315.6 350.0 L317.8 348.7 L320.1 347.0 L322.3 344.7 L324.6 342.8 L326.8 340.8 L329.1 339.2 L331.3 338.1 L333.6 335.5 L335.8 333.0 L338.1 331.6 L340.3 330.4 L342.6 328.4 L344.8 327.1 L347.1 326.1 L349.3 324.7 L351.6 324.4 L353.8 323.8 L356.1 324.6 L358.3 322.1 L360.6 320.7 L362.8 319.1 L365.1 317.5 L367.3 315.8 L369.6 315.3 L371.8 313.8 L374.1 312.1 L376.3 310.2 L378.6 307.2 L380.8 307.7 L383.1 306.8 L385.3 306.4 L387.6 305.5 L389.8 304.7 L392.1 304.2 L394.3 303.0 L396.6 301.2 L398.8 299.3 L401.1 298.3 L403.3 297.5 L405.6 294.5 L407.8 295.0 L410.1 293.9 L412.3 292.9 L414.6 292.2 L416.8 291.5 L419.1 289.4 L421.3 288.2 L423.6 288.1 L425.8 287.0 L428.1 286.7 L430.3 285.8 L432.6 285.2 L434.8 284.2 L437.1 283.6 L439.3 282.8 L441.6 281.6 L443.8 280.4 L446.1 280.5 L448.3 278.8 L450.6 279.1 L452.8 278.7 L455.1 277.6 L457.3 276.1 L459.6 275.0 L461.8 274.3 L464.1 272.7 L466.3 271.8 L468.6 271.0 L470.8 269.7 L473.1 269.3 L475.3 267.3 L477.6 266.1 L479.8 265.7 L482.1 263.2 L484.3 264.5 L486.6 263.5 L488.8 262.7 L491.1 262.6 L493.3 262.4 L495.6 261.0 L497.8 261.1 L500.1 260.7 L502.3 259.2 L504.6 259.3 L506.8 258.1 L509.1 256.9 L511.3 255.2 L513.5 254.6 L515.8 255.1 L518.0 256.2 L520.3 255.9 L522.5 255.8 L524.8 255.6 L527.0 255.6 L529.3 256.4 L531.5 257.3 L533.8 258.4 L536.0 258.5 L538.3 258.7 L540.5 259.8 L542.8 260.4 L545.0 260.6 L547.3 260.5 L549.5 261.4 L551.8 261.7 L554.0 262.3 L556.3 262.7 L558.5 262.1 L560.8 261.6 L563.0 261.9 L565.3 262.0 L567.5 262.3 L569.8 261.3 L572.0 263.8 L574.3 262.0 L576.5 262.4 L578.8 261.9 L581.0 262.2 L583.3 263.0 L585.5 262.5 L587.8 262.2 L590.0 262.1 L592.3 261.9 L594.5 260.4 L596.8 261.3 L599.0 260.7 L601.3 260.5 L603.5 260.1 L605.8 260.0 L608.0 260.0 L610.3 260.3 L612.5 260.4 L614.8 261.2 L617.0 260.4 L619.3 259.4 L621.5 259.7 L623.8 260.4 L626.0 260.2 L628.3 260.3 L630.5 259.7 L632.8 260.6 L635.0 259.6 L637.3 258.9 L639.5 258.9 L641.8 260.2 L644.0 260.2 L646.3 259.2 L648.5 259.2 L650.8 259.7 L653.0 258.1 L655.3 259.4 L657.5 260.0 L659.8 259.8 L662.0 259.1 L664.3 258.6 L666.5 258.1 L668.8 258.2 L671.0 258.7 L673.3 258.7 L675.5 257.7 L677.8 257.7 L680.0 257.5 L682.3 258.4 L684.5 257.8 L686.8 257.9 L689.0 257.2 L691.3 257.8 L693.5 258.0 L695.8 258.2 L698.0 258.6 L700.3 258.6 L702.5 258.5 L704.8 258.4 L707.0 258.1 L709.3 257.1 L711.5 257.1 L713.8 257.0 L716.0 257.7 L718.3 256.8 L720.5 257.5 L722.8 258.7 L725.0 258.3 L727.3 258.0 L729.5 258.4 L731.8 257.5 L734.0 258.4 L736.3 257.1 L738.5 258.6 L740.8 258.5 L743.0 258.3 L745.3 257.7 L747.5 257.7 L749.8 256.8 L752.0 257.8 L754.3 257.3 L756.5 256.2 L758.8 256.3 L761.0 256.1 L763.3 255.6 L765.5 255.9 L767.8 256.3 L770.0 257.8 L772.3 257.9 L774.5 257.0 L776.8 256.9 L779.0 257.2 L781.3 256.8 L783.5 256.6 L785.8 256.3 L788.0 256.4 L790.3 256.0 L792.5 256.4 L794.8 255.3 L797.0 255.2 L799.3 255.6 L801.5 255.3 L803.8 255.4 L806.0 255.4 L808.3 255.7 L810.5 255.8 L812.8 255.9 L815.0 256.0 L817.3 255.6 L819.5 255.9 L821.8 256.0 L824.0 255.6 L826.3 256.0 L828.5 255.8 L830.8 255.4 L833.0 255.1 L835.3 255.1 L837.5 256.4 L839.8 255.8 L842.0 255.2 L844.3 255.4 L846.5 254.6 L848.8 254.6 L851.0 255.0 L853.3 254.9 L855.5 254.7 L857.8 254.8 L860.0 254.8 L862.3 254.1 L864.5 253.2 L866.8 253.7 L869.0 254.0 L871.3 253.1 L873.5 253.4 L875.8 253.6 L878.0 253.8 L880.3 253.6 L882.5 253.4 L884.8 253.1 L887.0 252.5 L889.3 252.3 L891.5 252.1 L893.8 253.2 L896.0 252.9 L898.3 251.7 L900.5 252.4 L902.8 251.9 L905.0 254.5 L907.3 253.0 L909.5 253.3 L911.8 256.2 L914.0 254.0 L916.3 254.2 L918.5 253.2 L920.8 253.7 L923.0 254.4 L925.3 252.9 L927.5 253.0 L929.8 252.8 L932.0 251.6 L934.3 252.1 L936.5 253.1 L938.8 253.1 L941.0 253.1 L943.3 253.1 L945.5 252.8 L947.8 253.4 L949.5 252.6"/>
</g>
<g id="ticklabels">
<text class="tick" transform="translate(143.3 691.9) scale(1.0 1.045)" text-anchor="end">0.0</text>
<text class="tick" transform="translate(143.3 491.9) scale(1.0 1.045)" text-anchor="end">0.5</text>
<text class="tick" transform="translate(143.3 291.9) scale(1.0 1.045)" text-anchor="end">1.0</text>
<text class="tick" transform="translate(143.3 91.9) scale(1.0 1.045)" text-anchor="end">1.5</text>
<text class="tick" transform="translate(175.2 744.2) scale(1.0 1.045)" text-anchor="middle">0</text>
<text class="tick" transform="translate(400.2 744.2) scale(1.0 1.045)" text-anchor="middle">100</text>
<text class="tick" transform="translate(625.2 744.2) scale(1.0 1.045)" text-anchor="middle">200</text>
<text class="tick" transform="translate(850.2 744.2) scale(1.0 1.045)" text-anchor="middle">300</text>
<text class="tick" transform="translate(1074.6 744.2) scale(1.0 1.045)" text-anchor="middle">400</text>
</g>
<text class="ttl" x="545.3" y="783" dx="0 0.85 0.85 3.5">Time<tspan class="par" x="618.2" y="782.3">（</tspan><tspan x="658.8" y="783">s</tspan><tspan class="par" x="682.9" y="782.3">）</tspan></text>
<text class="ttl" style="font-size:33px" transform="translate(73.6 506.0) rotate(-90)">Response (nm)</text>
<text class="ann" transform="translate(0 108.9) scale(1 1.045)"><tspan x="187.9">K</tspan><tspan class="ss" x="207.6" dy="5.17">D</tspan><tspan class="lt" x="224.4" dy="-5.17">＜</tspan><tspan x="251.9">1.00</tspan><tspan x="308.5">×</tspan><tspan x="325.1">10</tspan><tspan class="ss" x="357.0" dy="-11.00">-12</tspan></text>
<text class="ann" transform="translate(0 151.6) scale(1 1.045)"><tspan x="187.9">K</tspan><tspan class="ss" x="207.7" dy="5.36" letter-spacing="1.3">off</tspan><tspan class="lt" x="233.4" dy="-5.36">＜</tspan><tspan x="261.2">1.00</tspan><tspan x="317.6">×</tspan><tspan x="334.2">10</tspan><tspan class="ss" x="365.8" dy="-11.00">-6</tspan></text>
<text class="ann" transform="translate(0 193.7) scale(1 1.045)"><tspan x="187.9">K</tspan><tspan class="ss" x="207.5" dy="5.36" letter-spacing="0.6">on</tspan><tspan x="230.8" dy="-5.36">=</tspan><tspan x="248.4">1.44</tspan><tspan x="305.4">×</tspan><tspan x="320.0">10</tspan><tspan class="ss" x="352.7" dy="-11.00">5</tspan></text>
<g id="legend">
<path d="M986.1 80.5 H1050.0" stroke="#e5444c" stroke-width="3" fill="none"/>
<text class="leg" transform="translate(1077.0 89.0) scale(1.0 1.01)">200 nM</text>
<path d="M985.1 130.3 H1049.0" stroke="#e87d1a" stroke-width="3" fill="none"/>
<text class="leg" transform="translate(1076.0 138.8) scale(1.0 1.01)">100 nM</text>
<path d="M984.1 179.5 H1048.0" stroke="#a010d7" stroke-width="3" fill="none"/>
<text class="leg" transform="translate(1075.0 188.0) scale(1.0 1.01)">50 nM</text>
<path d="M984.1 231.9 H1048.0" stroke="#08af14" stroke-width="3" fill="none"/>
<text class="leg" transform="translate(1075.0 240.4) scale(1.0 1.01)">25 nM</text>
<path d="M984.1 284.2 H1048.0" stroke="#1e94aa" stroke-width="3" fill="none"/>
<text class="leg" transform="translate(1075.0 292.7) scale(1.0 1.01)">12.5 nM</text>
<path d="M984.1 336.7 H1048.0" stroke="#0404d7" stroke-width="3" fill="none"/>
<text class="leg" transform="translate(1075.0 345.2) scale(1.0 1.01)">6.25 nM</text>
<path d="M984.1 389.2 H1048.0" stroke="#f8f816" stroke-width="3" fill="none"/>
<text class="leg" transform="translate(1075.0 397.7) scale(1.0 1.01)">3.125 nM</text>
</g>
</svg></body></html>
